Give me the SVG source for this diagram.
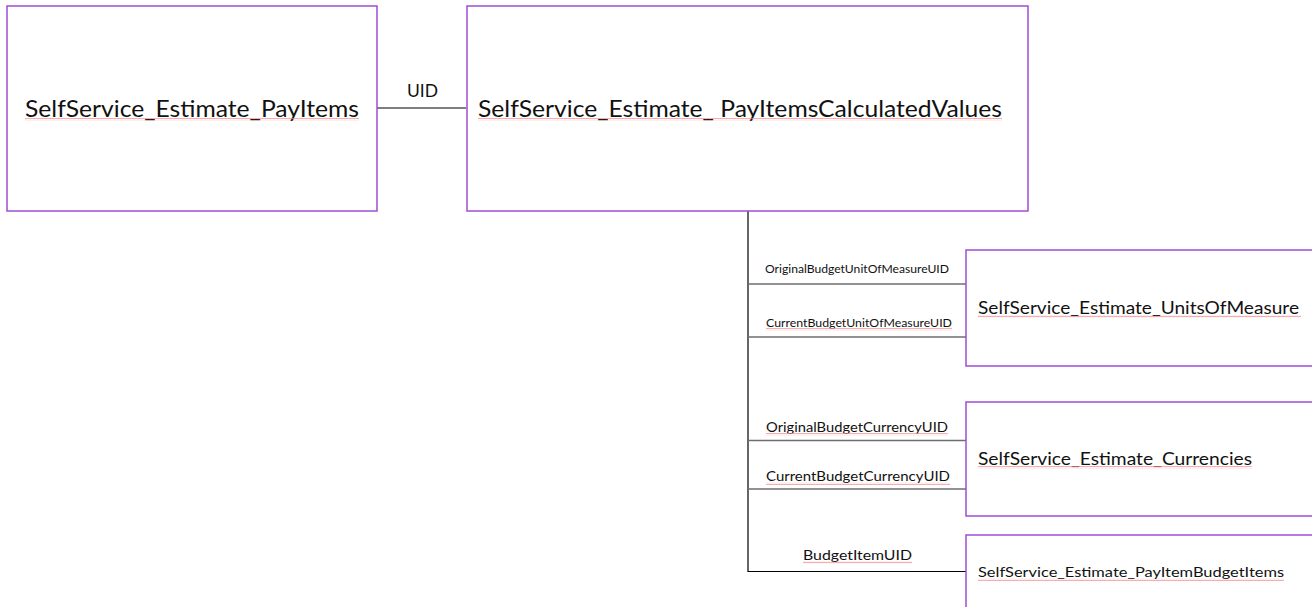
<svg xmlns="http://www.w3.org/2000/svg" width="1312" height="607" viewBox="0 0 1312 607">
<style>
  .box { fill: #ffffff; stroke: #a24bd6; stroke-width: 1.5; }
  .t { font-family: Lato, "Open Sans", "Liberation Sans", sans-serif; fill: #111111; }
  .big { font-size: 23px; }
  .mid { font-size: 17px; }
  .sm { font-size: 14px; }
  .lab { font-size: 13px; }
  .labs { font-size: 10.5px; }
  .conn { stroke: #000000; stroke-width: 1.2; fill: none; }
  .connG { stroke: #6e6e6e; stroke-width: 1.6; fill: none; }
  .sq { fill: url(#wave); }
</style>
<defs>
  <pattern id="wave" patternUnits="userSpaceOnUse" width="4" height="3">
    <path d="M0,2.2 L1,0.8 L2,2.2 L3,0.8 L4,2.2" stroke="#f08a8a" stroke-width="0.7" fill="none"/>
  </pattern>
</defs>
<rect width="1312" height="607" fill="#ffffff"/>

<g id="connectors">
  <line class="conn" x1="377" y1="108" x2="466" y2="108"/>
  <line class="conn" x1="748" y1="211" x2="748" y2="572"/>
  <line class="connG" x1="748" y1="284" x2="966" y2="284"/>
  <line class="connG" x1="748" y1="337" x2="966" y2="337"/>
  <line class="connG" x1="748" y1="440.5" x2="966" y2="440.5"/>
  <line class="connG" x1="748" y1="489" x2="966" y2="489"/>
  <line class="conn" x1="748" y1="571.5" x2="966" y2="571.5"/>
  <text class="t" x="407" y="97" font-size="17" textLength="31" lengthAdjust="spacingAndGlyphs">UID</text>
  <text class="t labs" x="765" y="273" textLength="184" lengthAdjust="spacingAndGlyphs">OriginalBudgetUnitOfMeasureUID</text>
  <text class="t labs" x="766" y="327" textLength="186" lengthAdjust="spacingAndGlyphs">CurrentBudgetUnitOfMeasureUID</text>
  <rect class="sq" x="766" y="328" width="186" height="3"/>
  <text class="t lab" x="766" y="432" textLength="182" lengthAdjust="spacingAndGlyphs">OriginalBudgetCurrencyUID</text>
  <rect class="sq" x="766" y="433" width="182" height="3"/>
  <text class="t lab" x="766" y="481" textLength="184" lengthAdjust="spacingAndGlyphs">CurrentBudgetCurrencyUID</text>
  <rect class="sq" x="766" y="482" width="184" height="3"/>
  <text class="t lab" x="803" y="560" textLength="109" lengthAdjust="spacingAndGlyphs">BudgetItemUID</text>
  <rect class="sq" x="803" y="561" width="109" height="3"/>
</g>

<g id="node-payitems">
  <rect class="box" x="7" y="6" width="370" height="205"/>
  <text class="t big" x="25" y="117" textLength="334" lengthAdjust="spacingAndGlyphs">SelfService_Estimate_PayItems</text>
  <rect class="sq" x="25" y="118" width="334" height="3"/>
</g>

<g id="node-calculated">
  <rect class="box" x="467" y="6" width="561" height="205"/>
  <text class="t big" x="478" y="117" textLength="524" lengthAdjust="spacingAndGlyphs" xml:space="preserve">SelfService_Estimate_ PayItemsCalculatedValues</text>
  <rect class="sq" x="478" y="118" width="524" height="3"/>
</g>

<g id="node-units">
  <rect class="box" x="966" y="250" width="350" height="116"/>
  <text class="t mid" x="978" y="314" textLength="321" lengthAdjust="spacingAndGlyphs">SelfService_Estimate_UnitsOfMeasure</text>
  <rect class="sq" x="978" y="315" width="323" height="3"/>
</g>

<g id="node-currencies">
  <rect class="box" x="966" y="402" width="350" height="114"/>
  <text class="t mid" x="978" y="465" textLength="274" lengthAdjust="spacingAndGlyphs">SelfService_Estimate_Currencies</text>
  <rect class="sq" x="978" y="466" width="274" height="3"/>
</g>

<g id="node-budgetitems">
  <rect class="box" x="966" y="535" width="350" height="80"/>
  <text class="t sm" x="978" y="577" textLength="306" lengthAdjust="spacingAndGlyphs">SelfService_Estimate_PayItemBudgetItems</text>
  <rect class="sq" x="978" y="578" width="306" height="3"/>
</g>
</svg>
